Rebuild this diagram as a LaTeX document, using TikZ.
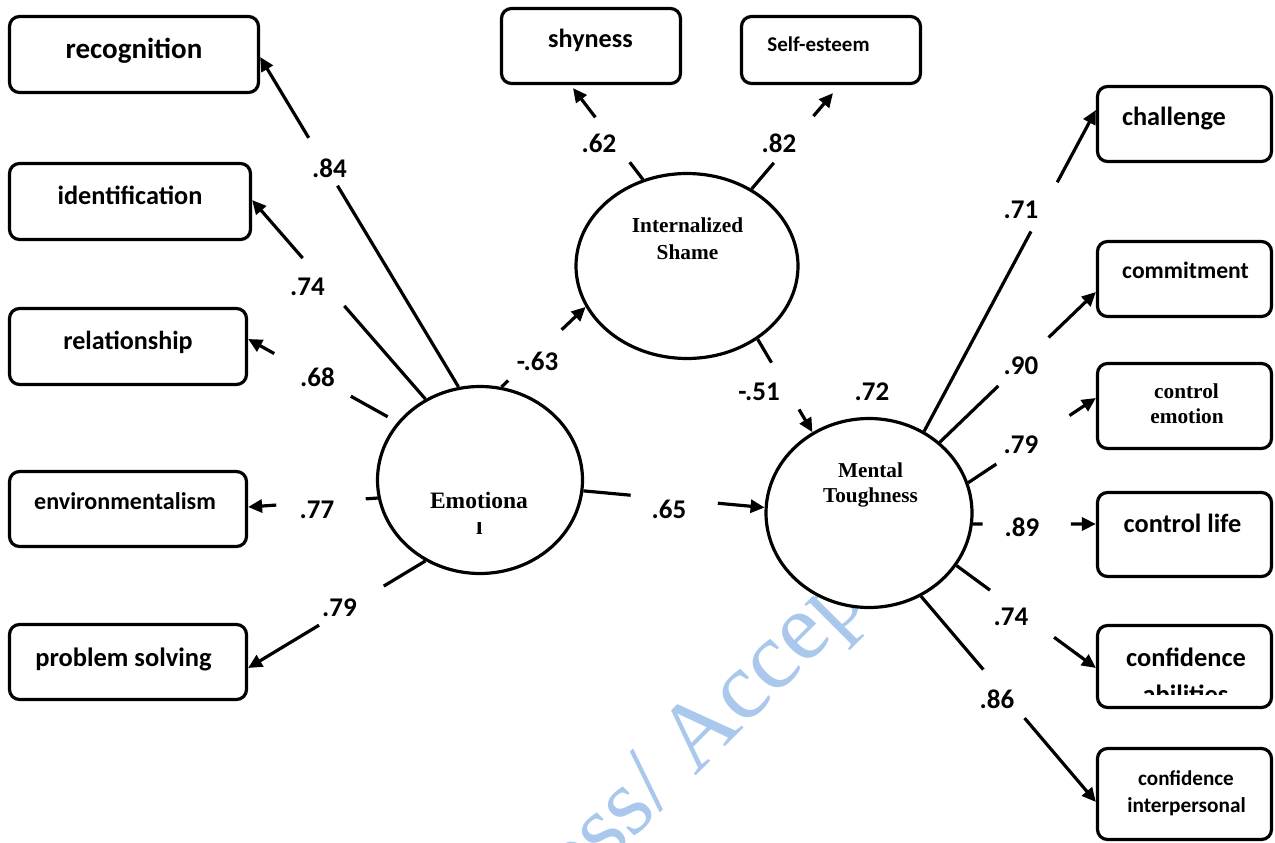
\documentclass[tikz,border=0pt]{standalone}
\usepackage{fontspec}
\setmainfont{Carlito}
\newfontfamily\tnr{Liberation Serif}
\usetikzlibrary{arrows.meta,shapes.geometric}
\definecolor{wmblue}{RGB}{170,200,235}
\newcommand\semline[5]{%
  \path (#1) -- (#2) coordinate[pos=#5] (g0) coordinate[pos=#3] (g1) coordinate[pos=#4] (g2);
  \draw[ln] (g0) -- (g1);
  \draw[arr] (g2) -- (#2);}
\begin{document}
\begin{tikzpicture}[x=1pt,y=-1pt,
  box/.style={draw, line width=3.2pt, rounded corners=10pt, fill=white, inner sep=0pt},
  lat/.style={draw, ellipse, line width=3.2pt, fill=white, inner sep=0pt},
  ln/.style={line width=3.2pt},
  arr/.style={line width=3.2pt, -{Triangle[length=14pt,width=13pt]}},
  lab/.style={font=\fontsize{27pt}{27pt}\selectfont\bfseries, inner sep=0pt},
  txt/.style={anchor=base, inner sep=0pt, font=\fontsize{#1pt}{#1pt}\selectfont\bfseries},
  stxt/.style={anchor=base, inner sep=0pt, font=\tnr\fontsize{#1pt}{#1pt}\selectfont\bfseries},
  wm/.style={text=wmblue, inner sep=0pt, font=\tnr\fontsize{96pt}{96pt}\selectfont}]
\useasboundingbox (0,0) rectangle (1275,843);
\fill[white] (0,0) rectangle (1275,843);
% watermark
\begin{scope}
  \clip (0,0) rectangle (1275,843);
  \node[wm, rotate=45, anchor=base west] (wmk) at (442.3,1029.7) {In Press/ Accepted};
\end{scope}
% boxes
\node[box, minimum width=249pt, minimum height=76pt] (rec) at (134,54.5) {};
\node[box, minimum width=241pt, minimum height=76pt] (ide) at (130,201.5) {};
\node[box, minimum width=237pt, minimum height=76pt] (rel) at (128,346.5) {};
\node[box, minimum width=237pt, minimum height=75pt] (env) at (128,509) {};
\node[box, minimum width=237pt, minimum height=75pt] (pro) at (128,662) {};
\node[box, minimum width=179pt, minimum height=75pt] (shy) at (591,46) {};
\node[box, minimum width=179pt, minimum height=67pt] (sel) at (831,50) {};
\node[box, minimum width=174pt, minimum height=75pt] (cha) at (1184.5,124) {};
\node[box, minimum width=174pt, minimum height=75pt] (com) at (1184.5,279) {};
\node[box, minimum width=174pt, minimum height=85pt] (ce) at (1184.5,406) {};
\node[box, minimum width=174pt, minimum height=84pt] (cl) at (1184.5,534.5) {};
\node[box, minimum width=174pt, minimum height=82pt] (ca) at (1184.5,666.5) {};
\node[box, minimum width=174pt, minimum height=91pt] (ci) at (1184.5,794) {};
% latent variables
\node[lat, minimum width=205pt, minimum height=187pt] (emo) at (480,480) {};
\node[lat, minimum width=222pt, minimum height=185pt] (ish) at (687,266) {};
\node[lat, minimum width=206pt, minimum height=189pt] (mt) at (869,513) {};
% box texts
\node[txt=29] (trec) at (134,59) {recognition};
\node[txt=26.3] (tide) at (130,204) {identification};
\node[txt=26.1] (trel) at (128,349) {relationship};
\node[txt=24.1] (tenv) at (125,509) {environmentalism};
\node[txt=26.5] (tpro) at (123.5,666) {problem solving};
\node[txt=26.2] (tshy) at (590.5,48) {shyness};
\node[txt=21] (tsel) at (818.5,52) {Self-esteem};
\node[txt=26.3] (tcha) at (1174,125) {challenge};
\node[txt=23.6] (tcom) at (1185.5,278) {commitment};
\node[stxt=21.3] (tce1) at (1186.5,398) {control};
\node[stxt=21.3] (tce2) at (1187,423) {emotion};
\node[txt=26.3] (tcl) at (1182.5,532) {control life};
\begin{scope}
  \clip (1090,600) rectangle (1280,694.5);
  \node[txt=26.4] (tca1) at (1186,666) {confidence};
  \node[txt=26.4] (tca2) at (1185.5,703) {abilities};
\end{scope}
\node[txt=21.1] (tci1) at (1186,785) {confidence};
\node[txt=21.3] (tci2) at (1186.5,812) {interpersonal};
% latent texts
\node[stxt=21.3] (tish1) at (687.5,232) {Internalized};
\node[stxt=21.3] (tish2) at (687.5,259) {Shame};
\node[stxt=21.2] (tmt1) at (870.5,477) {Mental};
\node[stxt=21.2] (tmt2) at (870.5,502) {Toughness};
\node[stxt=23.5] (temo1) at (479,508) {Emotiona};
\begin{scope}
  \clip (460,522.5) rectangle (500,545);
  \node[stxt=23.5] (temo2) at (479.3,534) {l};
\end{scope}
% connectors
\semline{emo.103}{[yshift=-2.5pt]rec.east}{0.61}{0.755}{0}
\semline{emo.124.5}{[yshift=1.5pt]ide.east}{0.468}{0.708}{0}
\semline{emo.145.6}{[yshift=7.5pt]rel.east}{0.312}{0.825}{0.065}
\semline{emo.190.5}{[yshift=2pt]env.east}{0.093}{0.783}{0}
\semline{emo.236.3}{[yshift=-6pt]pro.east}{0.235}{0.6}{0}
\semline{ish.117.1}{[xshift=-18pt,yshift=-3pt]shy.south}{0.188}{0.68}{0}
\semline{ish.50.2}{[xshift=2pt,yshift=-8pt]sel.south}{0.273}{0.76}{0}
\semline{emo.77.7}{ish.202.1}{0.08}{0.715}{0}
\semline{ish.314.6}{mt.125.1}{0.252}{0.755}{0}
\semline{emo.354}{mt.177.2}{0.261}{0.742}{0}
\semline{mt.56.5}{[yshift=14pt]cha.west}{0.622}{0.775}{0}
\semline{mt.45.8}{[yshift=-13pt]com.west}{0.375}{0.697}{0}
\semline{mt.17.6}{[yshift=8pt]ce.west}{0.22}{0.793}{0}
\semline{mt.354.5}{[yshift=10.5pt]cl.west}{0.078}{0.796}{0}
\semline{mt.329.7}{[yshift=-1.5pt]ca.west}{0.24}{0.70}{0}
\semline{mt.302}{[yshift=-8pt]ci.west}{0.356}{0.592}{0}
% coefficients
\node[lab] (l84) at (329.5,168) {.84};
\node[lab] (l74) at (307.5,287) {.74};
\node[lab] (l68) at (317.5,377.5) {.68};
\node[lab] (l77) at (317,509.5) {.77};
\node[lab] (l79) at (339.5,607.5) {.79};
\node[lab] (l62) at (599,143) {.62};
\node[lab] (l82) at (779,143) {.82};
\node[lab] (l63) at (537.5,361) {-.63};
\node[lab] (l51) at (759,392) {-.51};
\node[lab] (l72) at (872,392) {.72};
\node[lab] (l65) at (669,509) {.65};
\node[lab] (l71) at (1021,210) {.71};
\node[lab] (l90) at (1021,366) {.90};
\node[lab] (l79r) at (1021,445) {.79};
\node[lab] (l89) at (1022,527) {.89};
\node[lab] (l74r) at (1011,617) {.74};
\node[lab] (l86) at (997,699) {.86};
\end{tikzpicture}
\end{document}
